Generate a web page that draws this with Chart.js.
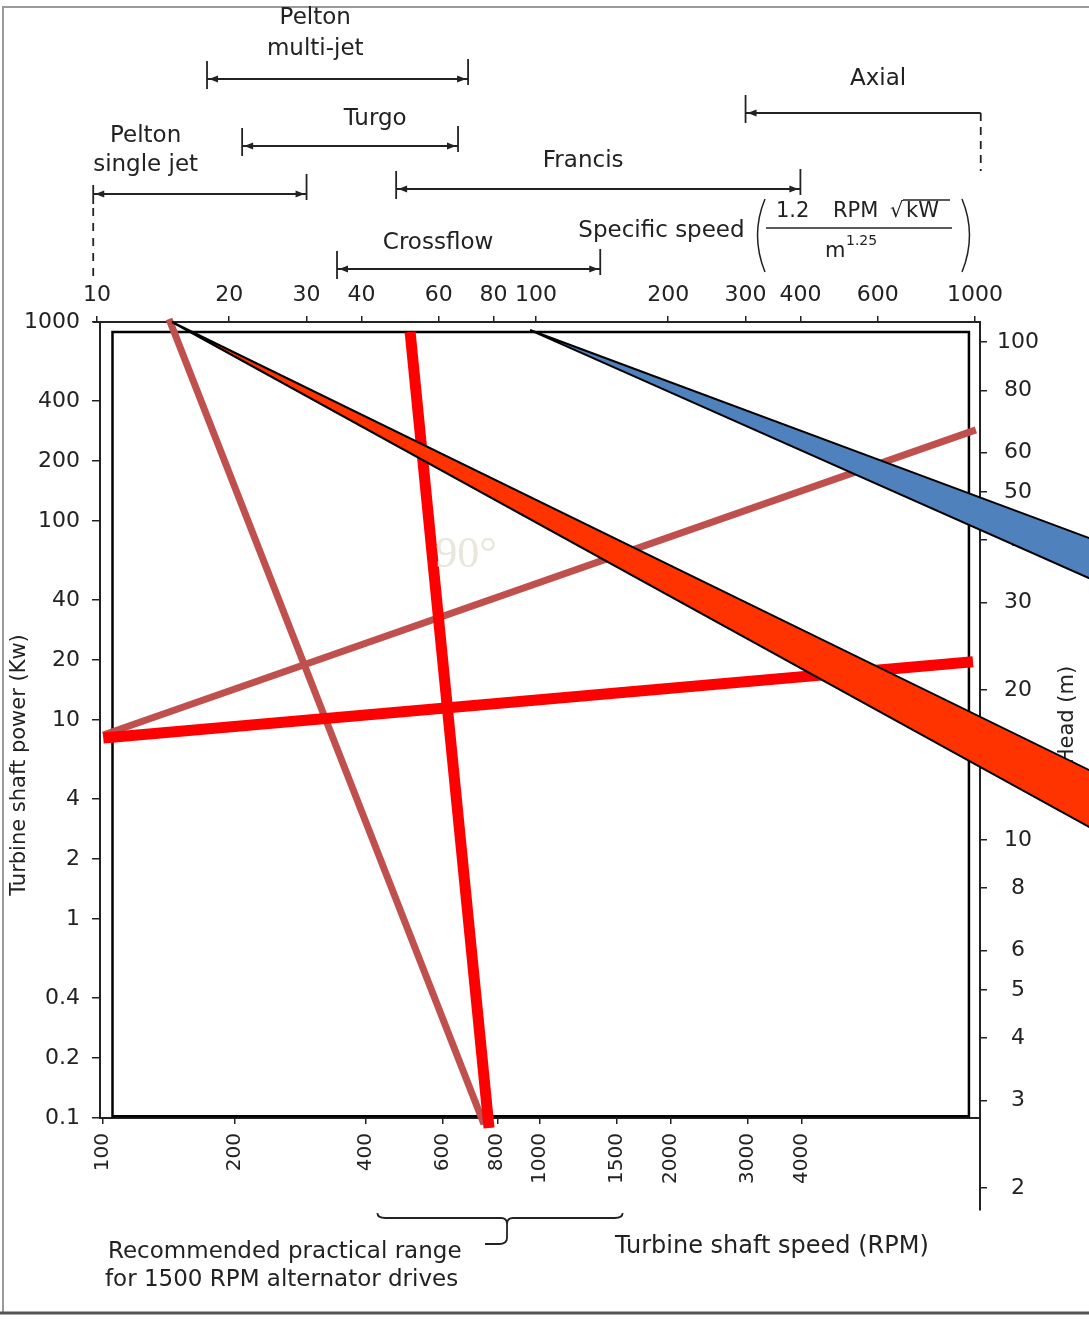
<!DOCTYPE html>
<html>
<head>
<meta charset="utf-8">
<title>Turbine application chart</title>
<script src="https://cdn.jsdelivr.net/npm/chart.js@4.4.1/dist/chart.umd.min.js"></script>
<style>
  html, body { margin: 0; padding: 0; background: #fff; }
  canvas { display: block; }
</style>
</head>
<body>
<canvas id="chart" width="1089" height="1319"></canvas>
<script>
// Turbine application chart - power / shaft speed / head nomogram

// ==================== DATA ====================
const rpmTicks = [100, 200, 400, 600, 800, 1000, 1500, 2000, 3000, 4000];
const powerTicks = [0.1, 0.2, 0.4, 1, 2, 4, 10, 20, 40, 100, 200, 400, 1000];
const headTicks = [2, 3, 4, 5, 6, 8, 10, 20, 30, 40, 50, 60, 80, 100];
const specificSpeedTicks = [10, 20, 30, 40, 60, 80, 100, 200, 300, 400, 600, 1000];

// value at each end of the drawn axes
const rpmRange = [98.3, 10220];
const powerRange = [0.1, 1000];
const headRange = [1.807, 109.7];
const specificSpeedRange = [9.84, 1026];

// turbine types by specific speed
const turbineLabels = [['Pelton', 'multi-jet'], ['Turgo'], ['Pelton', 'single jet'], ['Francis'], ['Crossflow'], ['Axial']];
const turbineFrom = [17.8, 21.4, 9.8, 48, 35.2, 300];
const turbineTo = [70, 66.4, 30, 400, 140, 1030];

// recommended practical range for 1500 RPM alternator drives (RPM)
const recommendedRpm = [425, 1550];

// overlay lines (RPM, kW)
const steepBrownRpm = [141.5, 746];
const steepBrownKw = [1035, 0.093];
const steepRedRpm = [505, 766];
const steepRedKw = [891, 0.089];
const flatRedRpm = [100, 9850];
const flatRedKw = [8.12, 19.6];
const flatBrownRpm = [100, 10000];
const flatBrownKw = [8.41, 287];
const redBandRpm = [143.7, 19250, 19250, 143.7];
const redBandKw = [1000, 5.27, 2.71, 1000];
const blueBandRpm = [951, 19250, 19250, 951];
const blueBandKw = [911, 78.4, 48.8, 911];
const frameRpm = [105, 9640, 9640, 105, 105, 9640];
const frameKw = [890, 890, 0.102, 0.102, 890, 890];

// ==================== LAYOUT ====================
const ink = '#222';
const font = "'DejaVu Sans', sans-serif";
const axisBox = { left: 100, right: 980, top: 322, bottom: 1118, headBottom: 1210, ssLeft: 94 };

Chart.defaults.font.family = font;
Chart.defaults.color = ink;

const pts = (xs, ys) => xs.map((x, i) => ({ x, y: ys[i] }));
const lineSet = (label, xs, ys, color, width, extra) => Object.assign({
    label, data: pts(xs, ys), showLine: true, borderColor: color, borderWidth: width,
    pointRadius: 0, fill: false, clip: false, tension: 0, borderCapStyle: 'butt'
}, extra || {});
const fixTicks = values => scale => { scale.ticks = values.map(v => ({ value: v })); };
const label = v => String(v);
const axisGrid = len => ({ drawOnChartArea: false, tickLength: len, color: ink, lineWidth: 1.5 });
const axisBorder = { color: ink, width: 2 };

// turbine range rows above the chart: y of the arrow line and label lines
const turbineRows = [
    { y: 79, labelAt: 31.4, labelY: [18, 49] },
    { y: 146, labelAt: 43, labelY: [119] },
    { y: 194, labelAt: 12.9, labelY: [136, 165], dashDown: 'left' },
    { y: 189, labelAt: 128, labelY: [161] },
    { y: 269, labelAt: 59.8, labelY: [243] },
    { y: 113, labelAt: 601, labelY: [79], dashDown: 'right' }
];

function drawText(ctx, str, x, y, size, align, rotate, family, color) {
    ctx.save();
    ctx.font = `${size}px ${family || font}`;
    ctx.fillStyle = color || ink;
    ctx.textAlign = align || 'center';
    ctx.textBaseline = 'middle';
    ctx.translate(x, y);
    if (rotate) ctx.rotate(rotate);
    ctx.fillText(str, 0, 0);
    ctx.restore();
}

function seg(ctx, x1, y1, x2, y2) {
    ctx.beginPath(); ctx.moveTo(x1, y1); ctx.lineTo(x2, y2); ctx.stroke();
}

function arrowHead(ctx, tipX, y, dir) {
    ctx.beginPath();
    ctx.moveTo(tipX, y);
    ctx.lineTo(tipX - dir * 9, y - 3.5);
    ctx.lineTo(tipX - dir * 9, y + 3.5);
    ctx.closePath();
    ctx.fill();
}

// ==================== PLUGINS ====================
const paper = {
    id: 'paper',
    beforeDraw(chart) {
        const ctx = chart.ctx;
        ctx.save();
        ctx.fillStyle = '#fff';
        ctx.fillRect(0, 0, chart.width, chart.height);
        ctx.strokeStyle = '#9a9a9a'; ctx.lineWidth = 2;
        seg(ctx, 2, 7, chart.width, 7);
        seg(ctx, 3, 7, 3, 1312);
        ctx.strokeStyle = '#555'; ctx.lineWidth = 3;
        seg(ctx, 0, 1313, chart.width, 1313);
        ctx.restore();
    }
};

// put the four axes where the nomogram has them
const axisPlacer = {
    id: 'axisPlacer',
    afterLayout(chart) {
        const { x, y, ss, head } = chart.scales;
        Object.assign(y, { bottom: axisBox.bottom, height: axisBox.bottom - y.top });
        y.configure();
        Object.assign(x, { top: axisBox.bottom, bottom: axisBox.bottom + 90, height: 90, right: axisBox.right, width: axisBox.right - x.left });
        x.configure();
        Object.assign(ss, { left: axisBox.ssLeft, right: axisBox.right, width: axisBox.right - axisBox.ssLeft });
        ss.configure();
        Object.assign(head, { left: axisBox.right, right: chart.width, width: chart.width - axisBox.right });
    }
};

const underlay = {
    id: 'underlay',
    beforeDatasetsDraw(chart) {
        drawText(chart.ctx, 'Head (m)', 1068, 715, 21, 'center', -Math.PI / 2);
    }
};

const annotations = {
    id: 'annotations',
    afterDraw(chart) {
        const ctx = chart.ctx;
        const ss = chart.scales.ss;
        const rpm = chart.scales.x;
        ctx.save();
        ctx.strokeStyle = ink; ctx.fillStyle = ink; ctx.lineWidth = 1.8;

        // turbine ranges on the specific speed scale
        turbineRows.forEach((row, i) => {
            const x1 = ss.getPixelForValue(turbineFrom[i]);
            const x2 = ss.getPixelForValue(turbineTo[i]);
            seg(ctx, x1, row.y, x2, row.y);
            seg(ctx, x1, row.y - (row.dashDown === 'left' ? 9 : 18), x1, row.y + 10);
            arrowHead(ctx, x1 + 2, row.y, -1);
            if (row.dashDown === 'right') {
                ctx.setLineDash([8, 6]);
                seg(ctx, x2, row.y, x2, row.y + 58);
                ctx.setLineDash([]);
            } else {
                seg(ctx, x2, row.y - 20, x2, row.y + 6);
                arrowHead(ctx, x2 - 2, row.y, 1);
            }
            if (row.dashDown === 'left') {
                ctx.setLineDash([8, 7]);
                seg(ctx, x1, row.y + 14, x1, 276);
                ctx.setLineDash([]);
            }
            const lx = ss.getPixelForValue(row.labelAt);
            turbineLabels[i].forEach((t, k) => drawText(ctx, t, lx, row.labelY[k], 23));
        });

        // specific speed definition
        drawText(ctx, 'Specific speed', ss.getPixelForValue(193), 231, 23);
        ctx.lineWidth = 1.5;
        ctx.beginPath(); ctx.moveTo(765, 199); ctx.quadraticCurveTo(750, 235, 765, 272); ctx.stroke();
        ctx.beginPath(); ctx.moveTo(962, 199); ctx.quadraticCurveTo(977, 235, 962, 272); ctx.stroke();
        drawText(ctx, '1.2', 776, 212, 21, 'left');
        drawText(ctx, 'RPM', 833, 212, 21, 'left');
        drawText(ctx, '\u221A', 890, 212, 21, 'left');
        drawText(ctx, 'kW', 906, 212, 21, 'left');
        seg(ctx, 903, 200, 950, 200);
        seg(ctx, 766, 228, 952, 228);
        drawText(ctx, 'm', 825, 252, 21, 'left');
        drawText(ctx, '1.25', 846, 241, 14, 'left');

        // axis titles and notes
        drawText(ctx, 'Turbine shaft power (Kw)', 20, 765, 21, 'center', -Math.PI / 2);
        drawText(ctx, 'Turbine shaft speed (RPM)', 615, 1247, 24, 'left');
        drawText(ctx, 'Recommended practical range', 108, 1252, 23, 'left');
        drawText(ctx, 'for 1500 RPM alternator drives', 105, 1280, 23, 'left');

        // brace under the recommended speed range
        const xa = rpm.getPixelForValue(recommendedRpm[0]);
        const xb = rpm.getPixelForValue(recommendedRpm[1]);
        const mid = (xa + xb) / 2 + 7;
        const by = 1218;
        ctx.lineWidth = 1.8;
        ctx.beginPath();
        ctx.moveTo(xa, by - 5);
        ctx.quadraticCurveTo(xa, by, xa + 8, by);
        ctx.lineTo(mid - 6, by);
        ctx.quadraticCurveTo(mid, by, mid, by + 6);
        ctx.lineTo(mid, by + 20);
        ctx.quadraticCurveTo(mid, by + 26, mid - 8, by + 26);
        ctx.lineTo(mid - 22, by + 26);
        ctx.moveTo(mid, by + 6);
        ctx.quadraticCurveTo(mid, by, mid + 6, by);
        ctx.lineTo(xb - 8, by);
        ctx.quadraticCurveTo(xb, by, xb, by - 5);
        ctx.stroke();

        drawText(ctx, '90\u00B0', 466, 555, 44, 'center', 0, "'Liberation Serif', serif", '#E9E6DC');
        ctx.restore();
    }
};

// ==================== CHART ====================
// dataset 0 is drawn on top: bands over lines, box frame underneath
new Chart(document.getElementById('chart'), {
    type: 'scatter',
    data: {
        datasets: [
            lineSet('Red band', redBandRpm, redBandKw, '#000', 2, { fill: 'shape', backgroundColor: '#FF3300' }),
            lineSet('Blue band', blueBandRpm, blueBandKw, '#000', 2, { fill: 'shape', backgroundColor: '#4F81BD' }),
            lineSet('Red steep', steepRedRpm, steepRedKw, '#FF0000', 11),
            lineSet('Red flat', flatRedRpm, flatRedKw, '#FF0000', 11),
            lineSet('Brown flat', flatBrownRpm, flatBrownKw, '#C0504D', 7),
            lineSet('Brown steep', steepBrownRpm, steepBrownKw, '#C0504D', 7),
            lineSet('Frame', frameRpm, frameKw, '#000', 2.5, { borderJoinStyle: 'miter' })
        ]
    },
    options: {
        responsive: false,
        animation: false,
        events: [],
        layout: { padding: { left: 0, right: 0, top: 0, bottom: 1319 - axisBox.headBottom }, autoPadding: false },
        plugins: { legend: { display: false }, tooltip: { enabled: false } },
        scales: {
            x: {
                type: 'logarithmic', axis: 'x', position: 'bottom', min: rpmRange[0], max: rpmRange[1],
                afterBuildTicks: fixTicks(rpmTicks),
                afterFit: s => { s.height = 0; s.paddingLeft = 0; s.paddingRight = 0; },
                grid: axisGrid(6), border: axisBorder,
                ticks: { font: { size: 20 }, color: ink, minRotation: 90, maxRotation: 90, padding: 9, autoSkip: false, callback: label }
            },
            y: {
                type: 'logarithmic', axis: 'y', position: 'left', min: powerRange[0], max: powerRange[1],
                afterBuildTicks: fixTicks(powerTicks),
                afterFit: s => { s.width = axisBox.left; s.paddingTop = 0; s.paddingBottom = 0; },
                grid: axisGrid(8), border: axisBorder,
                ticks: { font: { size: 22 }, color: ink, padding: 12, autoSkip: false, callback: label }
            },
            ss: {
                type: 'logarithmic', axis: 'x', position: 'top', min: specificSpeedRange[0], max: specificSpeedRange[1],
                afterBuildTicks: fixTicks(specificSpeedTicks),
                afterFit: s => { s.height = axisBox.top; s.paddingLeft = 0; s.paddingRight = 0; },
                grid: axisGrid(6), border: axisBorder,
                ticks: { font: { size: 22 }, color: ink, padding: 8, maxRotation: 0, autoSkip: false, callback: label }
            },
            head: {
                type: 'logarithmic', axis: 'y', position: 'right', min: headRange[0], max: headRange[1],
                afterBuildTicks: fixTicks(headTicks),
                afterFit: s => { s.width = 0; s.paddingTop = 0; s.paddingBottom = 0; },
                grid: axisGrid(7), border: axisBorder,
                ticks: { font: { size: 22 }, color: ink, padding: 10, crossAlign: 'center', autoSkip: false, callback: label }
            }
        }
    },
    plugins: [paper, axisPlacer, underlay, annotations]
});
</script>
</body>
</html>
